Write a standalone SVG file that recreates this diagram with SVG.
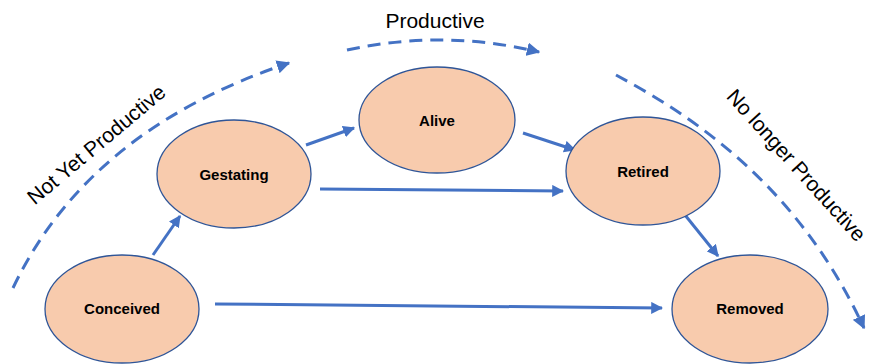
<svg xmlns="http://www.w3.org/2000/svg" width="870" height="364" viewBox="0 0 870 364">
<defs>
<style>
.node ellipse{fill:#F8CBAD;stroke:#2F5597;stroke-width:1.3}
.node text{font-family:"Liberation Sans",Arial,sans-serif;font-weight:bold;font-size:15px;fill:#000;text-anchor:middle}
.conn line{stroke:#4472C4;stroke-width:3;marker-end:url(#ah)}
.arc{fill:none;stroke:#4472C4;stroke-width:3;stroke-dasharray:13 8;marker-end:url(#ah2)}
.lbl{font-family:"Liberation Sans",Arial,sans-serif;font-size:21px;fill:#000;text-anchor:middle}
</style>
<marker id="ah" viewBox="0 0 10 10" refX="9" refY="5" markerWidth="4" markerHeight="4" orient="auto" markerUnits="strokeWidth">
<path d="M0,0 L10,5 L0,10 z" fill="#4472C4"/>
</marker>
<marker id="ah2" viewBox="0 0 10 10" refX="9" refY="5" markerWidth="4.5" markerHeight="4.5" orient="auto" markerUnits="strokeWidth">
<path d="M0,0 L10,5 L0,10 z" fill="#4472C4"/>
</marker>
</defs>
<rect width="870" height="364" fill="#fff"/>
<g id="phases">
<path class="arc" d="M13,288 Q88,130 289,63"/>
<path class="arc" d="M347,50 Q443,29 539,52"/>
<path class="arc" d="M616,75 C700,120 800,190 864,328"/>
<text class="lbl" x="435" y="28">Productive</text>
<text class="lbl" transform="translate(101,150) rotate(-40)">Not Yet Productive</text>
<text class="lbl" transform="translate(791,170) rotate(48)">No longer Productive</text>
</g>
<g id="connectors" class="conn">
<line x1="153" y1="255" x2="180" y2="216"/>
<line x1="306" y1="145" x2="354" y2="128"/>
<line x1="523" y1="133" x2="575" y2="150"/>
<line x1="320" y1="189" x2="563" y2="191"/>
<line x1="685" y1="215" x2="718" y2="256"/>
<line x1="215" y1="304" x2="662" y2="308"/>
</g>
<g id="conceived" class="node"><ellipse cx="122" cy="309" rx="77" ry="54"/><text x="122" y="314">Conceived</text></g>
<g id="gestating" class="node"><ellipse cx="234" cy="174" rx="77" ry="54"/><text x="234" y="180">Gestating</text></g>
<g id="alive" class="node"><ellipse cx="437" cy="120" rx="78" ry="53"/><text x="437" y="126">Alive</text></g>
<g id="retired" class="node"><ellipse cx="643" cy="171" rx="77" ry="54"/><text x="643" y="177">Retired</text></g>
<g id="removed" class="node"><ellipse cx="750" cy="309" rx="78" ry="54"/><text x="750" y="314">Removed</text></g>
</svg>
